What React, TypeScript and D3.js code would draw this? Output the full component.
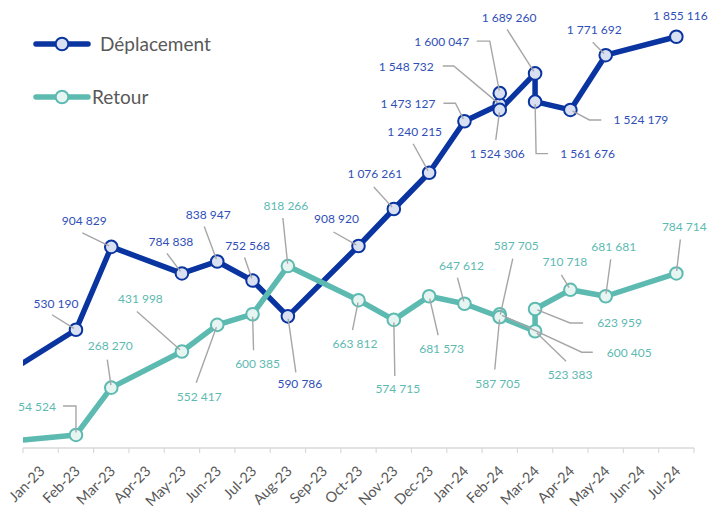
import React from "react";
import * as d3 from "d3";

// ---------- data ----------
const months = [
  "Jan-23", "Feb-23", "Mar-23", "Apr-23", "May-23", "Jun-23", "Jul-23", "Aug-23", "Sep-23", "Oct-23",
  "Nov-23", "Dec-23", "Jan-24", "Feb-24", "Mar-24", "Apr-24", "May-24", "Jun-24", "Jul-24",
];

// position on the month axis (category index); -0.5 = left edge of the axis
const depPos = [-0.5, 1, 2, 4, 5, 6, 7, 9, 10, 11, 12, 13, 13, 13, 14, 14, 15, 16, 18];
const depValues = [
  380000, 530190, 904829, 784838, 838947, 752568, 590786, 908920, 1076261, 1240215,
  1473127, 1548732, 1600047, 1524306, 1689260, 1561676, 1524179, 1771692, 1855116,
];

const retPos = [-0.5, 1, 2, 4, 5, 6, 7, 9, 10, 11, 12, 13, 13, 13, 14, 14, 15, 16, 18];
const retValues = [
  31600, 54524, 268270, 431998, 552417, 600385, 818266, 663812, 574715, 681573,
  647612, 587705, 600405, 587705, 523383, 623959, 710718, 681681, 784714,
];

const seriesNames = ["Déplacement", "Retour"];

// ---------- label layout (offsets from the point, px) ----------
const depLabelOffset: ([number, number] | null)[] = [
  null, [-20, -26], [-27, -26], [-11, -32], [-9, -47], [-5, -35], [12, 67], [-22, -27], [-19, -35],
  [-14.5, -41], [-56.5, -18], [-93.5, -37.5], [-58, -51], [-2.5, 44], [-26, -56], [52.5, 52],
  [70.5, 10], [-11.5, -26], [4, -21],
];
const depLeader: ([number, number][] | null)[] = [
  null, [[-24, -15]], [[-29, -14]], [[-15, -20]], [[-13, -35]], [[-8, -23]], [[8, 56]], [[-25, -14]],
  [[-20, -22]], [[-16, -29]], [[-21, -18], [-9, -18]], [[-57, -38.5], [-46, -38.5]],
  [[-23, -52], [-10, -52]], [[-4, 30]], [[-28, -44]], [[13, 52], [1, 52]], [[31, 10], [19, 10]],
  [[-13, -13]], null,
];
const retLabelOffset: ([number, number] | null)[] = [
  null, [-39, -28], [-1, -42], [-41.5, -53], [-18, 72], [5, 49], [-2, -60], [-3.5, 43], [4, 69],
  [12.5, 52], [-3, -38], [16.5, -71.5], [129.5, 38], [-2, 66.5], [35, 43], [84.5, 14],
  [-5.5, -28], [8, -50], [8, -47],
];
const retLeader: ([number, number][] | null)[] = [
  null, [[-13, -29], [0, -29]], [[-4, -28]], [[-45, -40]], [[-21, 58]], [[1, 36]], [[-5, -48]],
  [[-6, 30]], [[1, 56]], [[9, 39]], [[-7, -26]], [[13, -58.5]], [[93, 38], [82, 38]], [[-5, 52.5]],
  [[31, 30]], [[48, 14], [35, 14]], [[-9, -15]], [[5, -37]], [[4, -34]],
];

// ---------- styles ----------
const W = 709;
const H = 512;
const DEP = "#0A34A0";
const DEP_FILL = "#D8E0F1";
const DEP_TEXT = "#2F4FB7";
const RET = "#5DBAB1";
const RET_FILL = "#E7F5F2";
const RET_TEXT = "#5DBAB1";
const LEADER = "#A6A6A6";
const GREY_TEXT = "#595959";
const FONT = "Lato, 'Open Sans', sans-serif";

const fmt = (v: number) => d3.format(",")(v).replace(/,/g, " ");

export default function App() {
  const x = d3.scaleLinear().domain([-0.5, months.length - 0.5]).range([23, 694]);
  const y = d3.scaleLinear().domain([0, 2000000]).range([447, 4.7]);
  const axisY = 448;

  const mkLine = (pos: number[]) =>
    d3
      .line<number>()
      .x((_, i) => x(pos[i]))
      .y((v) => y(v));

  const series = [
    { name: seriesNames[0], pos: depPos, values: depValues, color: DEP, fill: DEP_FILL, text: DEP_TEXT, lo: depLabelOffset, ld: depLeader },
    { name: seriesNames[1], pos: retPos, values: retValues, color: RET, fill: RET_FILL, text: RET_TEXT, lo: retLabelOffset, ld: retLeader },
  ];

  const leaderPath = (px: number, py: number, verts: [number, number][]) => {
    const pts = verts.map(([dx, dy]) => [px + dx, py + dy]);
    const last = verts[verts.length - 1];
    const len = Math.hypot(last[0], last[1]) || 1;
    const inset = 2.5;
    pts.push([px + (last[0] / len) * inset, py + (last[1] / len) * inset]);
    return d3.line()(pts as [number, number][]) as string;
  };

  return (
    <svg width={W} height={H} style={{ position: "absolute", left: 0, top: 0, background: "#fff" }} fontFamily={FONT}>
      <defs>
        <clipPath id="plot">
          <rect x={x(-0.5)} y={0} width={x(months.length - 0.5) - x(-0.5)} height={H} />
        </clipPath>
      </defs>

      {/* axis */}
      <line x1={x(-0.5)} x2={x(months.length - 0.5)} y1={axisY} y2={axisY} stroke="#D9D9D9" strokeWidth={1.5} />
      {d3.range(months.length + 1).map((i) => (
        <line key={"t" + i} x1={x(i - 0.5)} x2={x(i - 0.5)} y1={axisY} y2={axisY + 5} stroke="#D9D9D9" strokeWidth={1.2} />
      ))}
      {months.map((m, i) => (
        <text
          key={m}
          transform={`translate(${x(i) + 5},${axisY + 24}) rotate(-45)`}
          textAnchor="end"
          fontSize={14.5}
          fill={GREY_TEXT}
        >
          {m}
        </text>
      ))}

      {/* series */}
      {series.map((s) => (
        <g key={s.name}>
          <path
            d={mkLine(s.pos)(s.values) as string}
            fill="none"
            stroke={s.color}
            strokeWidth={5.5}
            strokeLinejoin="round"
            strokeLinecap="round"
            clipPath="url(#plot)"
          />
          {s.values.map((v, i) =>
            s.pos[i] < 0 ? null : (
              <circle key={i} cx={x(s.pos[i])} cy={y(v)} r={6.3} fill={s.fill} stroke={s.color} strokeWidth={2} />
            )
          )}
        </g>
      ))}

      {/* leaders */}
      {series.map((s) => (
        <g key={"l" + s.name}>
          {s.values.map((v, i) => {
            const verts = s.ld[i];
            if (!verts) return null;
            return (
              <path key={i} d={leaderPath(x(s.pos[i]), y(v), verts)} fill="none" stroke={LEADER} strokeWidth={1.4} />
            );
          })}
        </g>
      ))}

      {/* labels */}
      {series.map((s) => (
        <g key={"d" + s.name}>
          {s.values.map((v, i) => {
            const o = s.lo[i];
            if (!o) return null;
            return (
              <text
                key={i}
                x={x(s.pos[i]) + o[0]}
                y={y(v) + o[1]}
                dy="0.36em"
                textAnchor="middle"
                fontSize={12}
                fill={s.text}
              >
                {fmt(v)}
              </text>
            );
          })}
        </g>
      ))}

      {/* legend */}
      <g>
        <line x1={36} x2={88} y1={44} y2={44} stroke={DEP} strokeWidth={5.5} strokeLinecap="round" />
        <circle cx={62} cy={44} r={6.3} fill={DEP_FILL} stroke={DEP} strokeWidth={2} />
        <text x={100} y={51} fontSize={19} fill={GREY_TEXT}>
          {seriesNames[0]}
        </text>
        <line x1={36} x2={88} y1={97} y2={97} stroke={RET} strokeWidth={5.5} strokeLinecap="round" />
        <circle cx={62} cy={97} r={6.3} fill={RET_FILL} stroke={RET} strokeWidth={2} />
        <text x={92} y={104} fontSize={19} fill={GREY_TEXT}>
          {seriesNames[1]}
        </text>
      </g>
    </svg>
  );
}
